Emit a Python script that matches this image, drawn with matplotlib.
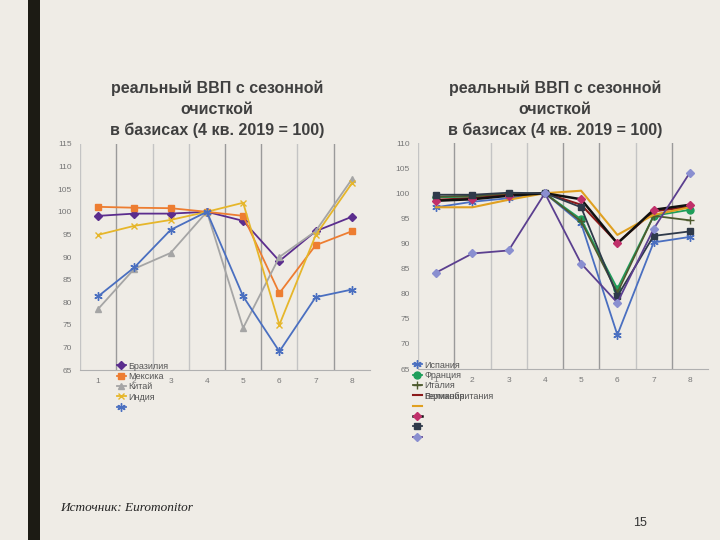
import matplotlib
matplotlib.use("Agg")
import matplotlib.pyplot as plt

plt.rcParams['font.family'] = ['Liberation Sans', 'DejaVu Sans']

quarters = [1, 2, 3, 4, 5, 6, 7, 8]

# left chart: emerging markets
left_names = ["Бразилия", "Мексика", "Китай", "Индия", " "]
brazil = [99.1, 99.6, 99.6, 100, 98.0, 89.1, 95.7, 98.9]
mexico = [101.1, 100.9, 100.8, 100, 99.1, 82.0, 92.6, 95.7]
china = [78.5, 87.4, 90.9, 100, 74.3, 90.0, 95.7, 107.2]
india = [94.9, 96.9, 98.2, 100, 102.0, 75.0, 94.8, 106.3]
russia = [81.3, 87.7, 96.0, 100, 81.3, 69.1, 81.1, 82.8]
left_yticks = [65, 70, 75, 80, 85, 90, 95, 100, 105, 110, 115]

# right chart: europe and others
right_names = ["Испания", "Франция", "Италия", "Великобритания", " ", " ", " ", " "]
spain = [97.2, 98.3, 99.0, 100, 94.0, 71.8, 90.2, 91.3]
france = [99.2, 99.3, 99.8, 100, 94.8, 81.0, 95.5, 96.7]
italy = [99.3, 99.5, 99.8, 100, 94.4, 80.2, 95.5, 94.6]
germany = [98.7, 99.0, 99.6, 100, 97.7, 90.1, 96.4, 97.3]
uk = [97.2, 97.2, 98.7, 100, 100.5, 91.7, 95.7, 97.2]
series6 = [98.5, 98.8, 99.5, 100, 98.8, 90.0, 96.7, 97.7]
series7 = [99.7, 99.7, 100.1, 100, 97.2, 79.5, 91.5, 92.4]
series8 = [84.2, 88.0, 88.6, 100, 86.0, 78.2, 92.9, 104.1]
right_yticks = [65, 70, 75, 80, 85, 90, 95, 100, 105, 110]

bg = "#efece6"
fig = plt.figure(figsize=(7.2, 5.4), dpi=100, facecolor=bg)

# dark bar on the left of the slide
fig.patches.append(plt.Rectangle((28 / 720, 0), 12 / 720, 1, transform=fig.transFigure,
                                 facecolor="#1c1b14", edgecolor="none"))


def style_axes(ax, ymin, ymax, yticks):
    ax.set_facecolor("none")
    ax.set_xlim(0.5, 8.5)
    ax.set_ylim(ymin, ymax)
    ax.set_xticks(quarters)
    ax.set_yticks(yticks)
    ax.tick_params(length=0, labelsize=6, colors="#777777", pad=6)
    for s in ["top", "right", "left"]:
        ax.spines[s].set_visible(False)
    ax.spines["bottom"].set_color("#b0b0b0")
    for xb in [0.5, 1.5, 2.5, 3.5, 4.5, 5.5, 6.5, 7.5]:
        ax.axvline(xb, color="#9a9a9a" if xb in (1.5, 4.5, 5.5, 7.5) else "#c4c4c4",
                   lw=1.0, zorder=0)


leg_kw = dict(bbox_transform=fig.transFigure, loc="upper left", frameon=False, fontsize=6.5,
              handlelength=1.1, handletextpad=0.2, labelspacing=0.15, borderpad=0,
              labelcolor="#555555")

ax1 = fig.add_axes([80 / 720, 1 - 370 / 540, 290 / 720, 226 / 540])
style_axes(ax1, 65, 115, left_yticks)
h1 = []
h1 += ax1.plot(quarters, brazil, color="#5b2d8e", marker="D", ms=4, lw=1.3)
h1 += ax1.plot(quarters, mexico, color="#ed7d31", marker="s", ms=5, lw=1.3)
h1 += ax1.plot(quarters, china, color="#a5a5a5", marker="^", ms=5, lw=1.3)
h1 += ax1.plot(quarters, india, color="#e6b62a", marker="x", ms=5, lw=1.3)
h1 += ax1.plot(quarters, russia, color="#4a6fc0", marker=(6, 2, 0), ms=6, lw=1.3)
ax1.legend(h1, left_names, bbox_to_anchor=(112 / 720, 1 - 357 / 540), **leg_kw)

ax2 = fig.add_axes([418 / 720, 1 - 369 / 540, 290 / 720, 226 / 540])
style_axes(ax2, 65, 110, right_yticks)
h2 = []
h2 += ax2.plot(quarters, spain, color="#4a6fc0", marker=(6, 2, 0), ms=6, lw=1.3)
h2 += ax2.plot(quarters, france, color="#1e9e5a", marker="o", ms=5, lw=1.3)
h2 += ax2.plot(quarters, italy, color="#4d5a2e", marker="+", ms=6, lw=1.3)
h2 += ax2.plot(quarters, germany, color="#8b1a1a", lw=1.5)
h2 += ax2.plot(quarters, uk, color="#e0a020", lw=1.5)
h2 += ax2.plot(quarters, series6, color="#111111", marker="D", mfc="#c0306a", mec="#c0306a",
               ms=4, lw=1.8)
h2 += ax2.plot(quarters, series7, color="#2f3a4a", marker="s", ms=5, lw=1.3)
h2 += ax2.plot(quarters, series8, color="#5b3f8f", marker="D", mfc="#8a8fd0", mec="#8a8fd0",
               ms=4, lw=1.3)
leg2 = ax2.legend(h2, right_names, bbox_to_anchor=(408 / 720, 1 - 356 / 540), **leg_kw)

# overlapping label from the source slide
fig.canvas.draw()
t4 = leg2.get_texts()[3]
bb = t4.get_window_extent().transformed(fig.transFigure.inverted())
fig.text(bb.x0, bb.y0 + bb.height / 2, "Германия", fontsize=6.5, color="#555555", va="center")

title = "реальный ВВП с сезонной\nочисткой\nв базисах (4 кв. 2019 = 100)"
fig.text(217 / 720, 1 - 81 / 540, title, ha="center", va="top", fontsize=11.5,
         fontweight="bold", color="#404040", linespacing=1.45)
fig.text(555 / 720, 1 - 81 / 540, title, ha="center", va="top", fontsize=11.5,
         fontweight="bold", color="#404040", linespacing=1.45)

fig.text(60 / 720, 1 - 508 / 540, "Источник: Euromonitor", fontsize=9.5, style="italic",
         family="Liberation Serif", color="#222222", va="center")
fig.text(640 / 720, 1 - 523 / 540, "15", fontsize=9, color="#333333", va="center", ha="center")

fig.savefig("out.png", dpi=100, facecolor=bg)
